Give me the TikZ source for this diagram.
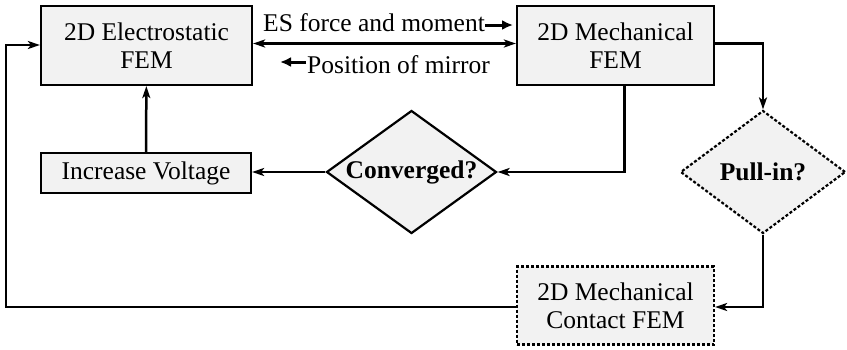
\documentclass[tikz,border=0pt]{standalone}
\usepackage{fontspec}
\setmainfont{Liberation Serif}
\usetikzlibrary{shapes.geometric,arrows.meta}
\definecolor{boxfill}{HTML}{F2F2F2}
\tikzset{
  x=1pt,y=-1pt,
  every node/.style={font=\fontsize{25.5}{28}\selectfont},
  fembox/.style={draw,line width=2.2pt,fill=boxfill,align=center,inner sep=0pt},
  decision/.style={diamond,draw,line width=2.2pt,fill=boxfill,inner sep=0pt,aspect=1.38,font=\fontsize{25.5}{27}\selectfont\bfseries},
  dashbox/.style={dash pattern=on 3pt off 2pt},
  conn/.style={line width=2.5pt,-{Stealth[length=12pt,width=8pt,inset=3pt]}},
  biconn/.style={line width=2.5pt,{Stealth[length=12pt,width=8pt,inset=3pt]}-{Stealth[length=12pt,width=8pt,inset=3pt]}},
  lblarr/.style={line width=3pt,-{Latex[length=11pt,width=10pt]}},
  lbl/.style={inner sep=0pt,anchor=base west}
}
\begin{document}
\begin{tikzpicture}
\useasboundingbox (0,0) rectangle (847,349);
\node[fembox,minimum width=211pt,minimum height=79pt] (es) at (146.5,45.5) {2D Electrostatic\\FEM};
\node[fembox,minimum width=197pt,minimum height=79pt] (mech) at (615.5,45.5) {2D Mechanical\\FEM};
\node[fembox,minimum width=210pt,minimum height=40pt] (inc) at (146,173) {Increase Voltage};
\node[decision,minimum width=170pt,minimum height=123pt] (conv) at (411.5,172) {Converged?};
\node[decision,dashbox,minimum width=165pt,minimum height=123pt] (pull) at (763,172) {Pull-in?};
\node[fembox,dashbox,minimum width=197pt,minimum height=78pt] (contact) at (615.5,305.5) {2D Mechanical\\Contact FEM};

\node[lbl] (esf) at (263,31.5) {ES force and moment};
\node[lbl] (pos) at (307,73.5) {Position of mirror};
\draw[lblarr] ([xshift=0pt,yshift=6.5pt]esf.base east) -- ++(28,0);
\draw[lblarr] ([xshift=-1pt,yshift=11.5pt]pos.base west) -- ++(-26,0);

\draw[biconn] ([yshift=2pt]es.east) -- ([yshift=2pt]mech.west);
\draw[conn] (inc) -- (es);
\draw[conn] ([xshift=9pt]mech.south) |- (conv.east);
\draw[conn] (conv.west) -- (conv.west -| inc.east);
\draw[conn] ([yshift=2pt]mech.east) -| (pull.north);
\draw[conn] (pull.south) |- ([yshift=-1.5pt]contact.east);
\coordinate (c1) at (6,307);
\coordinate (c2) at (6,45);
\draw[conn] ([yshift=-1.5pt]contact.west) -- (c1) -- (c2) -- (c2 -| es.west);
\end{tikzpicture}
\end{document}
